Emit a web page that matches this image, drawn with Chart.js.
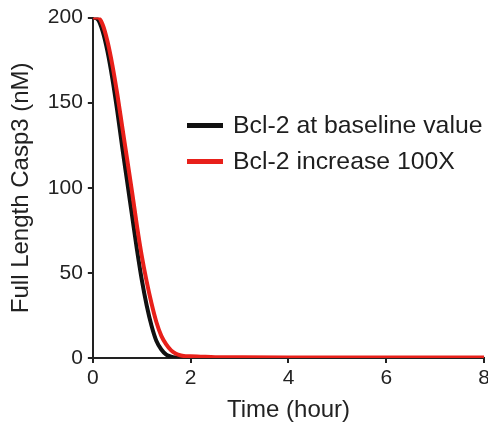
<!DOCTYPE html>
<html>
<head>
<meta charset="utf-8">
<script src="https://cdn.jsdelivr.net/npm/chart.js@4.4.0/dist/chart.umd.min.js"></script>
<style>
  html, body { margin: 0; padding: 0; background: #fff; overflow: hidden; }
  #wrap { position: relative; width: 488px; height: 422px; overflow: hidden; }
  #legend { position: absolute; left: 187px; top: 107px; font-family: "Liberation Sans", Arial, sans-serif; font-size: 24.8px; color: #1e1e1e; }
  #legend div { height: 36px; line-height: 36px; white-space: nowrap; }
  #legend span.sw { display: inline-block; width: 36px; height: 5px; vertical-align: middle; margin-right: 10px; position: relative; top: -1px; }
</style>
</head>
<body>
<div id="wrap">
  <canvas id="myChart" width="495" height="422"></canvas>
  <div id="legend"></div>
</div>
<script>
// time in hours
var tiempo = [0, 0.1, 0.2, 0.3, 0.4, 0.5, 0.6, 0.7, 0.8, 0.9, 1.0, 1.1, 1.2, 1.3, 1.4, 1.5, 1.6, 1.7, 1.8, 1.9, 2.0, 2.2, 2.5, 3, 4, 5, 6, 7, 8];
var casp3Base = [200, 199, 192, 180, 164, 145, 124, 104, 84, 64, 46, 31, 19, 10, 5, 2, 0.8, 0.3, 0.1, 0, 0, 0, 0, 0, 0, 0, 0, 0, 0];
var casp3Bcl2 = [200, 200, 196, 186, 172, 155, 136, 117, 98, 78, 60, 45, 32, 21, 13, 8, 4.5, 2.5, 1.5, 1, 1, 0.8, 0.5, 0.4, 0.3, 0.3, 0.3, 0.3, 0.3];
var etiquetas = ['Bcl-2 at baseline value', 'Bcl-2 increase 100X'];
var ticksX = [0, 2, 4, 6, 8];
var ticksY = [0, 50, 100, 150, 200];

function puntos(vals){
  var p = [];
  for (var i = 0; i < tiempo.length; i++) {
    p.push({x: tiempo[i], y: vals[i]});
  }
  return p;
}

var fuente = "'Liberation Sans', Arial, sans-serif";
const ctx = document.getElementById('myChart');
const grafico = new Chart(ctx, {
  type: 'line',
  data: {
    datasets: [{
      label: etiquetas[0],
      data: puntos(casp3Base),
      borderColor: '#111111',
      borderWidth: 4,
      pointRadius: 0,
      cubicInterpolationMode: 'monotone',
      order: 2
    }, {
      label: etiquetas[1],
      data: puntos(casp3Bcl2),
      borderColor: '#e8201a',
      borderWidth: 4,
      pointRadius: 0,
      cubicInterpolationMode: 'monotone',
      order: 1
    }]
  },
  options: {
    responsive: false,
    animation: false,
    layout: { padding: { top: 6, right: 0, left: 7, bottom: 0 } },
    plugins: { legend: { display: false }, tooltip: { enabled: false } },
    scales: {
      x: {
        type: 'linear',
        min: 0, max: 8,
        afterBuildTicks: function(s){ s.ticks = ticksX.map(function(v){ return {value: v}; }); },
        grid: { drawOnChartArea: false, drawTicks: true, tickLength: 5, color: '#222', lineWidth: 2 },
        border: { display: true, color: '#222', width: 2 },
        ticks: { color: '#222', font: { family: fuente, size: 21, lineHeight: 1 }, padding: 5, maxRotation: 0 },
        title: { display: true, text: 'Time (hour)', color: '#222', font: { family: fuente, size: 24, lineHeight: 1 }, padding: { top: 4, bottom: 0 } }
      },
      y: {
        min: 0, max: 200,
        afterBuildTicks: function(s){ s.ticks = ticksY.map(function(v){ return {value: v}; }); },
        grid: { drawOnChartArea: false, drawTicks: true, tickLength: 5, color: '#222', lineWidth: 2 },
        border: { display: true, color: '#222', width: 2 },
        ticks: { color: '#222', font: { family: fuente, size: 21 }, padding: 5 },
        title: { display: true, text: 'Full Length Casp3 (nM)', color: '#222', font: { family: fuente, size: 24 }, padding: { top: 0, bottom: 7 } }
      }
    }
  }
});

// html legend
var leg = document.getElementById('legend');
grafico.data.datasets.forEach(function(d){
  var row = document.createElement('div');
  row.innerHTML = '<span class="sw" style="background:' + d.borderColor + '"></span>' + d.label;
  leg.appendChild(row);
});
</script>
</body>
</html>
